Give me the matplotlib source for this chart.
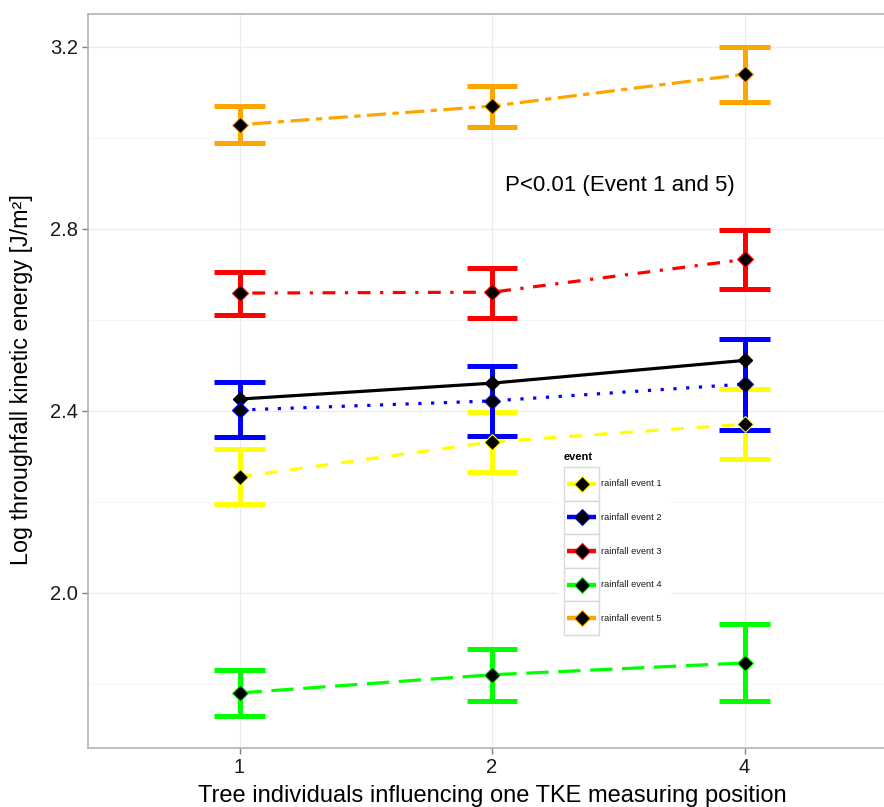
import matplotlib
matplotlib.use("Agg")
import matplotlib.pyplot as plt
from matplotlib.patches import Rectangle

plt.rcParams['font.family'] = ['Liberation Sans', 'DejaVu Sans']

# ---- data ----
x_labels = ["1", "2", "4"]
events = ["rainfall event 1", "rainfall event 2", "rainfall event 3",
          "rainfall event 4", "rainfall event 5"]
colors = ["#FFFF00", "#0000FF", "#FF0000", "#00FF00", "#FFA500"]
styles = [(0, (4, 4)), (0, (1, 3)), (0, (1, 3, 4, 3)), (0, (7, 3)), (0, (2, 2, 6, 2))]

means = [
    [2.255, 2.332, 2.371],   # event 1
    [2.402, 2.422, 2.459],   # event 2
    [2.659, 2.661, 2.733],   # event 3
    [1.780, 1.820, 1.846],   # event 4
    [3.029, 3.070, 3.140],   # event 5
]
upper = [
    [2.316, 2.398, 2.449],
    [2.463, 2.499, 2.558],
    [2.706, 2.715, 2.797],
    [1.831, 1.877, 1.932],
    [3.070, 3.114, 3.200],
]
lower = [
    [2.195, 2.266, 2.295],
    [2.343, 2.344, 2.358],
    [2.611, 2.604, 2.668],
    [1.730, 1.763, 1.763],
    [2.988, 3.024, 3.080],
]
overall = [2.426, 2.461, 2.511]
annotation = "P<0.01 (Event 1 and 5)"

W, H = 884, 807
fig = plt.figure(figsize=(W / 100, H / 100), dpi=100)
# panel: left 88px, right ~896px (cropped), top 14px, bottom 748px
ax = fig.add_axes([88 / W, 1 - 748 / H, 808 / W, (748 - 14) / H])

pos = list(range(len(x_labels)))
cap_half = 0.1

for i in range(len(events)):
    c = colors[i]
    ax.plot(pos, means[i], color=c, lw=2.3, linestyle=styles[i], zorder=3,
            dash_capstyle='butt')
    ax.vlines(pos, lower[i], upper[i], color=c, lw=3.6, zorder=2)
    ax.hlines(upper[i], [p - cap_half for p in pos], [p + cap_half for p in pos],
              color=c, lw=3.6, zorder=2)
    ax.hlines(lower[i], [p - cap_half for p in pos], [p + cap_half for p in pos],
              color=c, lw=3.6, zorder=2)
    ax.plot(pos, means[i], linestyle='none', marker='D', ms=8.5,
            mfc='black', mec=c, mew=0.8, zorder=5)

ax.plot(pos, overall, color='black', lw=2.3, zorder=4)
ax.plot(pos, overall, linestyle='none', marker='D', ms=7.5, mfc='black',
        mec='black', zorder=4)

ax.text(1.507, 2.895, annotation, fontsize=16, ha='center', va='center',
        color='black')

ax.set_xlim(-0.6, 2.6)
ax.set_ylim(1.659, 3.2725)
ax.set_xticks(pos)
ax.set_xticklabels(x_labels)
ax.set_yticks([2.0, 2.4, 2.8, 3.2])
ax.set_yticklabels(["2.0", "2.4", "2.8", "3.2"])
ax.set_yticks([1.8, 2.2, 2.6, 3.0], minor=True)
ax.tick_params(axis='both', which='major', labelsize=14.5, length=4, width=1,
               color='#7f7f7f', labelcolor='#1a1a1a', pad=3)
ax.tick_params(axis='y', which='minor', length=0)
ax.grid(True, which='major', color='#ebebeb', lw=0.9, zorder=0)
ax.grid(True, which='minor', axis='y', color='#f5f5f5', lw=0.6, zorder=0)
ax.set_axisbelow(True)
for s in ax.spines.values():
    s.set_color('#b3b3b3')
    s.set_linewidth(1.2)

fig.text(22 / W, 1 - 380 / H, "Log throughfall kinetic energy [J/m²]",
         rotation=90, ha='center', va='center', fontsize=16.8, color='black')
fig.text(492 / W, 1 - 796 / H,
         "Tree individuals influencing one TKE measuring position",
         ha='center', va='center', fontsize=17, color='black')

# ---- legend (ggplot style) in pixel coordinates ----
lx0, lx1, ly0, ly1 = 557, 671, 445, 642
lax = fig.add_axes([lx0 / W, 1 - ly1 / H, (lx1 - lx0) / W, (ly1 - ly0) / H])
lax.set_xlim(lx0, lx1)
lax.set_ylim(ly1, ly0)
lax.set_facecolor('white')
for s in lax.spines.values():
    s.set_visible(False)
lax.set_xticks([])
lax.set_yticks([])
lax.text(564, 457, "event", fontsize=8, fontweight='bold', ha='left',
         va='center', color='black')
box_top = 467
box_h = 33.6
for i, ev in enumerate(events):
    y0 = box_top + i * box_h
    lax.add_patch(Rectangle((564, y0), 35, box_h, facecolor='white',
                            edgecolor='#d9d9d9', lw=1.0))
    yc = y0 + box_h / 2
    lax.plot([567, 596], [yc, yc], color=colors[i], lw=3.2,
             solid_capstyle='butt')
    lax.plot([581.5], [yc], marker='D', ms=8, mfc='black', mec=colors[i],
             mew=0.8, linestyle='none')
    lax.text(601, yc, ev, fontsize=6.7, ha='left', va='center',
             color='#1a1a1a')

fig.savefig("out.png", dpi=100)
